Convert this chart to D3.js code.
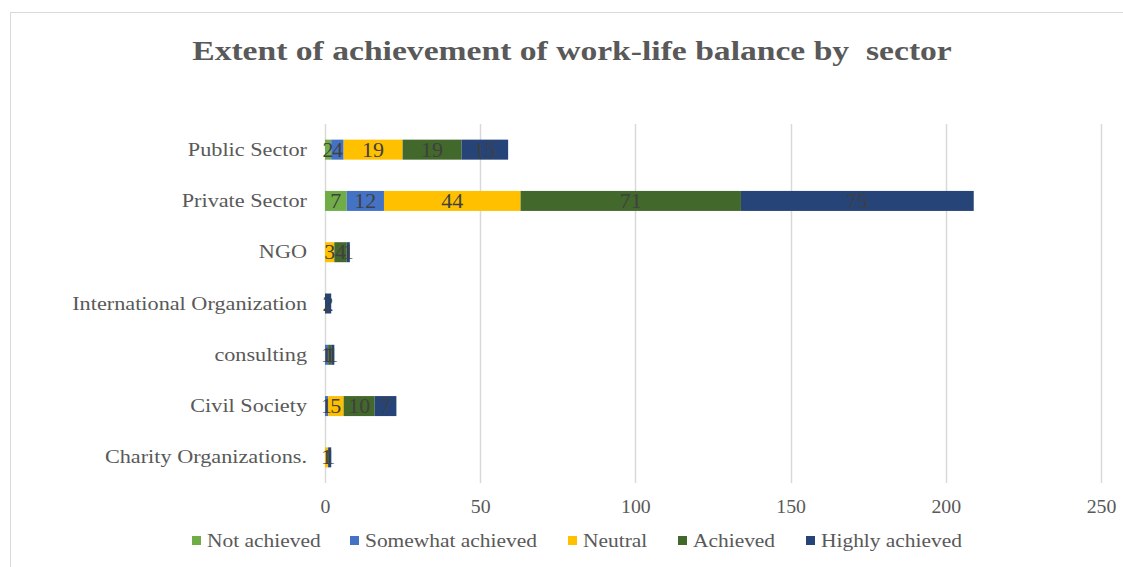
<!DOCTYPE html>
<html>
<head>
<meta charset="utf-8">
<script src="https://cdn.jsdelivr.net/npm/d3@7"></script>
<style>
  html, body { margin: 0; padding: 0; background: #fff; }
  svg { display: block; }
</style>
</head>
<body>
<svg id="chart" width="1123" height="567"></svg>
<script>
// Sectors, listed top to bottom
const sectors = ["Public Sector", "Private Sector", "NGO", "International Organization",
                 "consulting", "Civil Society", "Charity Organizations."];
const levels = ["Not achieved", "Somewhat achieved", "Neutral", "Achieved", "Highly achieved"];
const levelColors = ["#70AD47", "#4472C4", "#FFC000", "#43682B", "#264478"];

// Responses per sector for each level
const notAchieved      = [2, 7, 0, 0, 0, 0, 0];
const somewhatAchieved = [4, 12, 0, 0, 1, 1, 0];
const neutral          = [19, 44, 3, 0, 0, 5, 1];
const achieved         = [19, 71, 4, 0, 1, 10, 0];
const highlyAchieved   = [15, 75, 1, 2, 1, 7, 1];

const xTicks = [0, 50, 100, 150, 200, 250];

const seriesValues = [notAchieved, somewhatAchieved, neutral, achieved, highlyAchieved];
const rows = sectors.map((s, i) => {
  const r = { sector: s };
  levels.forEach((l, j) => r[l] = seriesValues[j][i]);
  return r;
});

const svg = d3.select("#chart");
const serif = "'Liberation Serif', 'DejaVu Serif', serif";
const textGray = "#595959";

// widen glyphs so the serif face runs as wide as a Cambria-style face
function widen(sel, k) {
  sel.each(function () {
    const w = this.getComputedTextLength();
    d3.select(this).attr("textLength", w * k).attr("lengthAdjust", "spacingAndGlyphs");
  });
}

// outer chart frame
svg.append("rect")
  .attr("x", 10.5).attr("y", 12.5)
  .attr("width", 1130).attr("height", 570)
  .attr("fill", "#fff").attr("stroke", "#d9d9d9").attr("stroke-width", 1);

const title = svg.append("text")
  .attr("x", 572).attr("y", 60)
  .attr("text-anchor", "middle")
  .attr("font-family", serif)
  .attr("font-weight", "bold")
  .attr("font-size", 28)
  .attr("fill", textGray)
  .style("white-space", "pre")
  .text("Extent of achievement of work-life balance by  sector");
widen(title, 1.2);

const x = d3.scaleLinear().domain([0, 250]).range([325, 1101]);
const y = d3.scaleBand().domain(sectors).range([124, 483]).paddingInner(0.61).paddingOuter(0.305);

// vertical gridlines
svg.append("g")
  .selectAll("line")
  .data(xTicks)
  .join("line")
  .attr("x1", d => Math.round(x(d)) + 0.5)
  .attr("x2", d => Math.round(x(d)) + 0.5)
  .attr("y1", 124).attr("y2", 483)
  .attr("stroke", "#d9d9d9").attr("stroke-width", 1.5);

// x axis tick labels
const xAxis = d3.axisBottom(x).tickValues(xTicks).tickSize(0).tickPadding(0);
const gx = svg.append("g").attr("transform", "translate(0,498)").call(xAxis);
gx.select(".domain").remove();
gx.selectAll("text")
  .attr("font-family", serif).attr("font-size", 18).attr("fill", textGray)
  .attr("dy", "0.85em");
widen(gx.selectAll("text"), 1.1);

// category labels
const yAxis = d3.axisLeft(y).tickSize(0).tickPadding(0);
const gy = svg.append("g").attr("transform", "translate(307,0)").call(yAxis);
gy.select(".domain").remove();
gy.selectAll("text")
  .attr("font-family", serif).attr("font-size", 19).attr("fill", textGray);
widen(gy.selectAll("text"), 1.17);

// stacked bars
const stacked = d3.stack().keys(levels)(rows);
const color = d3.scaleOrdinal().domain(levels).range(levelColors);

const layers = svg.append("g").selectAll("g")
  .data(stacked)
  .join("g")
  .attr("fill", d => color(d.key));

layers.selectAll("rect")
  .data(d => d.filter(p => p[1] - p[0] > 0))
  .join("rect")
  .attr("x", d => x(d[0]))
  .attr("y", d => y(d.data.sector))
  .attr("width", d => x(d[1]) - x(d[0]))
  .attr("height", y.bandwidth());

// value labels centred in each segment
const labels = svg.append("g");
stacked.forEach(layer => {
  layer.filter(p => p[1] - p[0] > 0).forEach(p => {
    labels.append("text")
      .attr("x", (x(p[0]) + x(p[1])) / 2)
      .attr("y", y(p.data.sector) + y.bandwidth() / 2)
      .attr("dy", "0.35em")
      .attr("text-anchor", "middle")
      .attr("font-family", serif).attr("font-size", 20)
      .attr("fill", "#404040")
      .text(p[1] - p[0]);
  });
});
widen(labels.selectAll("text"), 1.1);

// legend
const legendX = [192, 350, 568, 678, 806];
const legend = svg.append("g").selectAll("g")
  .data(levels)
  .join("g")
  .attr("transform", (d, i) => `translate(${legendX[i]},541)`);
legend.append("rect")
  .attr("x", 0).attr("y", -5).attr("width", 9).attr("height", 9)
  .attr("fill", d => color(d));
const legendText = legend.append("text")
  .attr("x", 15).attr("dy", "0.35em")
  .attr("font-family", serif).attr("font-size", 18).attr("fill", textGray)
  .text(d => d);
widen(legendText, 1.19);
</script>
</body>
</html>
